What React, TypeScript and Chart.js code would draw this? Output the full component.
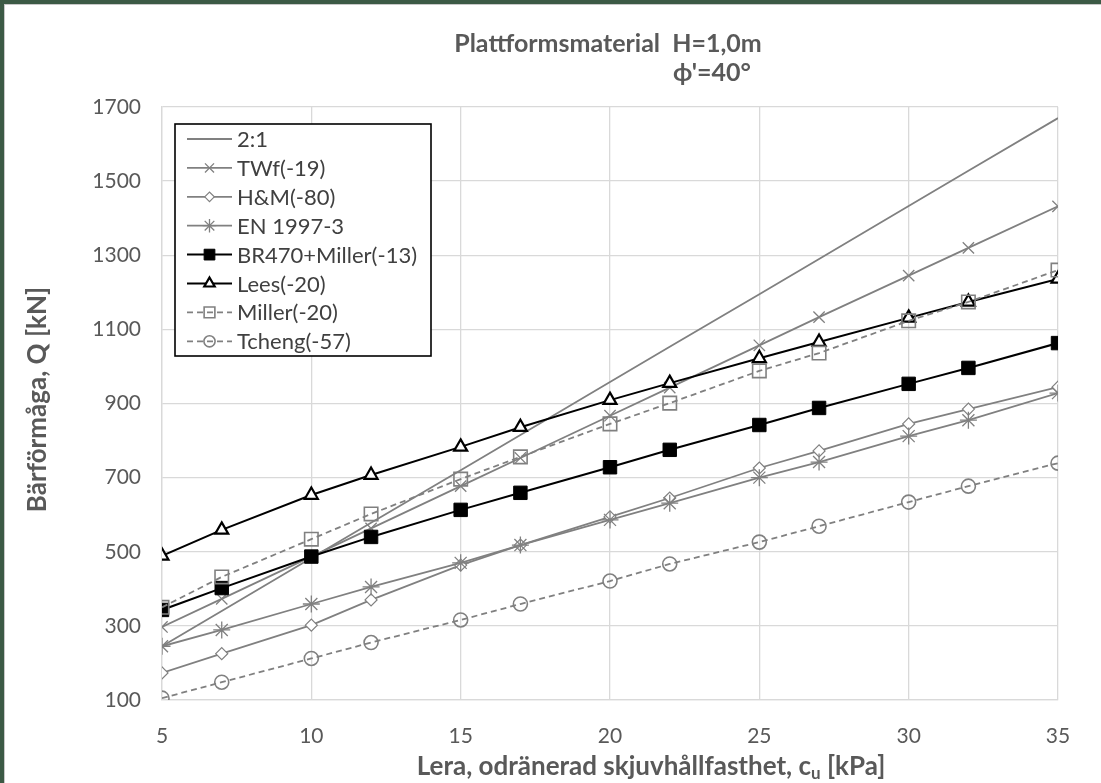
import React, { useEffect, useRef } from "react";
import { Chart, registerables } from "chart.js";
import { drawPoint } from "chart.js/helpers";

Chart.register(...registerables);

// ---- data ----
const cuValues = [5, 7, 10, 12, 15, 17, 20, 22, 25, 27, 30, 32, 35];
const seriesNames = [
  "2:1",
  "TWf(-19)",
  "H&M(-80)",
  "EN 1997-3",
  "BR470+Miller(-13)",
  "Lees(-20)",
  "Miller(-20)",
  "Tcheng(-57)",
];
const q21 = [245, 340, 483, 578, 720, 815, 958, 1053, 1195, 1290, 1433, 1528, 1670];
const qTWf = [297, 373, 487, 563, 677, 753, 867, 943, 1057, 1133, 1245, 1320, 1432];
const qHM = [173, 225, 302, 370, 464, 518, 594, 645, 726, 772, 845, 885, 944];
const qEN = [245, 289, 359, 405, 470, 518, 586, 631, 700, 742, 812, 855, 928];
const qBR = [343, 402, 487, 540, 613, 659, 728, 775, 842, 888, 953, 996, 1063];
const qLees = [489, 559, 653, 707, 783, 836, 909, 955, 1022, 1066, 1131, 1174, 1236];
const qMiller = [350, 432, 534, 602, 696, 756, 845, 901, 988, 1036, 1123, 1174, 1260];
const qTcheng = [105, 148, 212, 255, 316, 359, 421, 467, 526, 569, 634, 677, 739];
const yTicks = [100, 300, 500, 700, 900, 1100, 1300, 1500, 1700];
const xTicks = [5, 10, 15, 20, 25, 30, 35];

const titleLine1 = "Plattformsmaterial  H=1,0m";
const titleLine2 = "ϕ'=40°";
const yTitle = "Bärförmåga, Q [kN]";
const xTitleMain = "Lera, odränerad skjuvhållfasthet, c";
const xTitleSub = "u";
const xTitleEnd = " [kPa]";

const FONT = "Lato, 'Open Sans', sans-serif";
const GRAY = "#808080";
const TEXT = "#595959";

type Style = {
  color: string;
  width: number;
  dash: number[];
  pointStyle: any;
  radius: number;
  fill: string;
  pbw: number;
};

const styles: Style[] = [
  { color: GRAY, width: 1.8, dash: [], pointStyle: false, radius: 0, fill: "transparent", pbw: 0 },
  { color: GRAY, width: 1.8, dash: [], pointStyle: "crossRot", radius: 8, fill: "transparent", pbw: 1.3 },
  { color: GRAY, width: 1.8, dash: [], pointStyle: "rectRot", radius: 6, fill: "#ffffff", pbw: 1.2 },
  { color: GRAY, width: 1.8, dash: [], pointStyle: "star", radius: 8.5, fill: "transparent", pbw: 1.3 },
  { color: "#000000", width: 2, dash: [], pointStyle: "rect", radius: 9.5, fill: "#000000", pbw: 1 },
  { color: "#000000", width: 2, dash: [], pointStyle: "triangle", radius: 7.5, fill: "#ffffff", pbw: 2.2 },
  { color: GRAY, width: 1.8, dash: [6, 4], pointStyle: "rect", radius: 9.5, fill: "transparent", pbw: 1.6 },
  { color: GRAY, width: 1.8, dash: [6, 4], pointStyle: "circle", radius: 7, fill: "transparent", pbw: 1.6 },
];

const seriesValues = [q21, qTWf, qHM, qEN, qBR, qLees, qMiller, qTcheng];

const textPlugin = {
  id: "textPlugin",
  afterDraw(chart: any) {
    const ctx: CanvasRenderingContext2D = chart.ctx;
    const area = chart.chartArea;
    ctx.save();
    // chart title
    ctx.fillStyle = TEXT;
    ctx.font = `bold 25px ${FONT}`;
    ctx.textAlign = "center";
    ctx.textBaseline = "middle";
    ctx.fillText(titleLine1, 604, 40);
    ctx.fillText(titleLine2, 708, 69);

    // y title
    ctx.save();
    ctx.translate(34, (area.top + area.bottom) / 2 - 4);
    ctx.rotate(-Math.PI / 2);
    ctx.font = `bold 26px ${FONT}`;
    ctx.fillText(yTitle, 0, 0);
    ctx.restore();

    // x title with subscript
    ctx.font = `bold 26px ${FONT}`;
    const w1 = ctx.measureText(xTitleMain).width;
    const w3 = ctx.measureText(xTitleEnd).width;
    ctx.font = `bold 17px ${FONT}`;
    const w2 = ctx.measureText(xTitleSub).width;
    const total = w1 + w2 + w3;
    let x = 647 - total / 2;
    const y = 763;
    ctx.textAlign = "left";
    ctx.font = `bold 26px ${FONT}`;
    ctx.fillText(xTitleMain, x, y);
    x += w1;
    ctx.font = `bold 17px ${FONT}`;
    ctx.fillText(xTitleSub, x, y + 7);
    x += w2;
    ctx.font = `bold 26px ${FONT}`;
    ctx.fillText(xTitleEnd, x, y);

    // legend
    const lx = 171, ly = 120, lw = 256, lh = 232;
    ctx.fillStyle = "#ffffff";
    ctx.fillRect(lx, ly, lw, lh);
    ctx.strokeStyle = "#000000";
    ctx.lineWidth = 1.6;
    ctx.strokeRect(lx, ly, lw, lh);
    const rowH = 28.9;
    for (let i = 0; i < seriesNames.length; i++) {
      const s = styles[i];
      const cy = ly + 15 + i * rowH;
      const x0 = lx + 12, x1 = lx + 57;
      ctx.strokeStyle = s.color;
      ctx.lineWidth = s.width;
      ctx.setLineDash(s.dash);
      ctx.beginPath();
      ctx.moveTo(x0, cy);
      ctx.lineTo(x1, cy);
      ctx.stroke();
      ctx.setLineDash([]);
      if (s.pointStyle) {
        ctx.fillStyle = s.fill;
        ctx.strokeStyle = s.color;
        ctx.lineWidth = s.pbw;
        drawPoint(ctx, { pointStyle: s.pointStyle, radius: s.radius * 0.8, borderWidth: s.pbw, rotation: 0 } as any, (x0 + x1) / 2, cy);
      }
      ctx.fillStyle = "#404040";
      ctx.font = `22px ${FONT}`;
      ctx.textAlign = "left";
      ctx.textBaseline = "middle";
      ctx.fillText(seriesNames[i], x1 + 5, cy + 1);
    }
    ctx.restore();
  },
};

export default function App() {
  const ref = useRef<HTMLCanvasElement | null>(null);
  useEffect(() => {
    if (!ref.current) return;
    const datasets = seriesNames.map((name, i) => {
      const s = styles[i];
      return {
        label: name,
        data: cuValues.map((c, j) => ({ x: c, y: seriesValues[i][j] })),
        borderColor: s.color,
        borderWidth: s.width,
        borderDash: s.dash,
        pointStyle: s.pointStyle,
        pointRadius: s.radius,
        pointBackgroundColor: s.fill,
        pointBorderColor: s.color,
        pointBorderWidth: s.pbw,
        fill: false,
        tension: 0,
        order: 8 - i,
      };
    });
    const chart = new Chart(ref.current, {
      type: "line",
      data: { datasets },
      options: {
        animation: false,
        responsive: false,
        layout: { padding: { top: 103, right: 43, left: 0, bottom: 0 } },
        plugins: {
          legend: { display: false },
          title: { display: false },
          tooltip: { enabled: false },
        },
        scales: {
          x: {
            type: "linear",
            min: 5,
            max: 35,
            afterBuildTicks: (scale: any) => {
              scale.ticks = xTicks.map((v) => ({ value: v }));
            },
            afterFit: (scale: any) => {
              scale.height = 83;
            },
            grid: { color: "#d9d9d9", lineWidth: 1.3, drawTicks: false },
            border: { color: "#d9d9d9", width: 1.3 },
            ticks: {
              color: TEXT,
              font: { family: FONT, size: 21 },
              padding: 24,
              maxRotation: 0,
              callback: (v: any) => String(v),
            },
          },
          y: {
            type: "linear",
            min: 100,
            max: 1700,
            afterBuildTicks: (scale: any) => {
              scale.ticks = yTicks.map((v) => ({ value: v }));
            },
            afterFit: (scale: any) => {
              scale.width = 158;
            },
            grid: { color: "#d9d9d9", lineWidth: 1.3, drawTicks: false },
            border: { color: "#d9d9d9", width: 1.3 },
            ticks: {
              color: TEXT,
              font: { family: FONT, size: 21 },
              padding: 21,
              callback: (v: any) => String(v),
            },
          },
        },
      } as any,
      plugins: [textPlugin],
    });
    return () => chart.destroy();
  }, []);

  return (
    <div
      style={{
        position: "fixed",
        left: 0,
        top: 0,
        width: 1101,
        height: 783,
        boxSizing: "border-box",
        background: "#ffffff",
        borderTop: "4px solid #3c5a45",
        borderLeft: "4px solid #3c5a45",
        boxShadow: "inset 1px 1px 0 #c8c8c8",
      }}
    >
      <canvas ref={ref} width={1097} height={779} style={{ display: "block" }} />
    </div>
  );
}
